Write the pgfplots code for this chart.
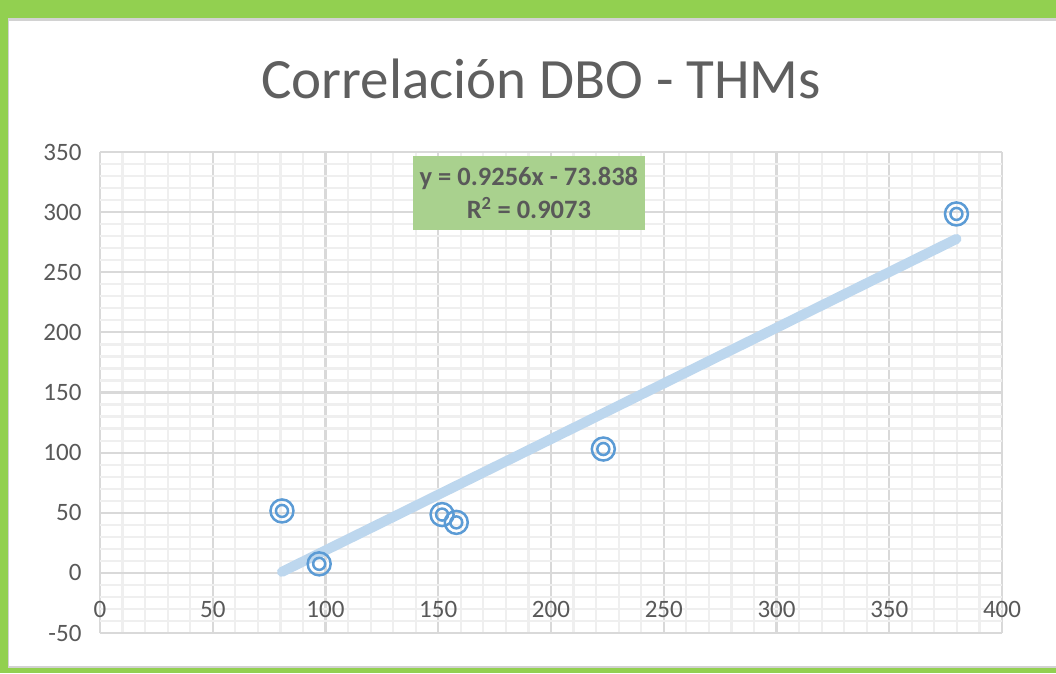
\documentclass[border=0pt]{standalone}
\usepackage{pgfplots}
\pgfplotsset{compat=1.18}
\usepackage{fontspec}
\setmainfont{Carlito}
\definecolor{frameGreen}{HTML}{92D050}
\definecolor{gridMajor}{HTML}{D9D9D9}
\definecolor{gridMinor}{HTML}{EFEFEF}
\definecolor{labelGray}{HTML}{595959}
\definecolor{titleGray}{HTML}{5F5F5F}
\definecolor{markBlue}{HTML}{5B9BD5}
\definecolor{trendBlue}{HTML}{BDD7EE}
\definecolor{eqGreen}{HTML}{A9D18E}
\begin{document}
\begin{tikzpicture}[x=1pt,y=1pt]
\fill[frameGreen] (0,0) rectangle (1056,673);
\fill[gray!35] (8,5) rectangle (1056,655);
\fill[white] (9,7) rectangle (1056,652);
\begin{axis}[
  at={(100pt,40pt)}, anchor=south west,
  scale only axis, width=902pt, height=481pt,
  xmin=0, xmax=400, ymin=-50, ymax=350,
  xtick={0,50,...,400}, ytick={-50,0,...,350},
  minor tick num=4,
  grid=both,
  major grid style={color=gridMajor, line width=2.2pt},
  minor grid style={color=gridMinor, line width=2.2pt},
  axis line style={draw=none},
  major tick style={draw=none}, minor tick style={draw=none},
  tick label style={font=\fontsize{25}{30}\selectfont, text=labelGray},
  /pgf/number format/assume math mode=true,
  x tick label style={anchor=center, yshift=24pt},
  y tick label style={anchor=east, xshift=-15pt},
]
\addplot[trendBlue, line width=10pt, line cap=round] coordinates {(80.7,0.86) (379.8,277.7)};
\addplot[only marks, mark=o, mark size=11.5pt, line width=2.5pt, color=markBlue] table {
x y
80.7 51.5
97.2 7.5
151.7 48.5
158 42
223.2 103
379.8 298.5
};
\addplot[only marks, mark=o, mark size=6pt, line width=2.5pt, color=markBlue] table {
x y
80.7 51.5
97.2 7.5
151.7 48.5
158 42
223.2 103
379.8 298.5
};
\node[fill=eqGreen, minimum width=232pt, minimum height=74pt, align=center, inner sep=0pt,
  font=\bfseries\fontsize{26.5}{33}\selectfont, text=labelGray] at (axis cs:190.2,315.9)
  {y = 0.9256x - 73.838\\R\textsuperscript{2} = 0.9073};
\end{axis}
\node[anchor=base, font=\fontsize{57}{60}\selectfont, text=titleGray] at (541,574) {Correlación DBO - THMs};
\end{tikzpicture}
\end{document}
